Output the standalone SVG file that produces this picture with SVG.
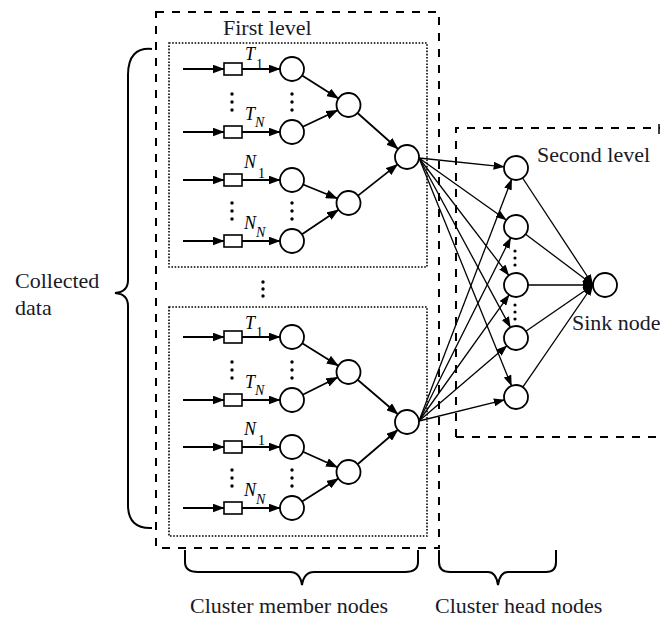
<svg xmlns="http://www.w3.org/2000/svg" width="660" height="619" viewBox="0 0 660 619">
<defs>
<marker id="ah" markerUnits="userSpaceOnUse" markerWidth="12" markerHeight="9" viewBox="0 0 12 9" refX="11.5" refY="4.5" orient="auto"><path d="M0,0 L12,4.5 L0,9 z" fill="#000"/></marker>
<marker id="ahs" markerUnits="userSpaceOnUse" markerWidth="11" markerHeight="8" viewBox="0 0 11 8" refX="10.5" refY="4" orient="auto"><path d="M0,0 L11,4 L0,8 z" fill="#000"/></marker>
</defs>
<style>
.dash{fill:none;stroke:#000;stroke-width:2;stroke-dasharray:8 8}
.dot{fill:none;stroke:#000;stroke-width:1.6;stroke-dasharray:1.6 1.6}
.nd{fill:#fff;stroke:#000;stroke-width:1.8}
.sq{fill:#fff;stroke:#000;stroke-width:1.6}
.a{stroke:#000;stroke-width:1.8;fill:none;marker-end:url(#ah)}
.c{stroke:#000;stroke-width:1.3;fill:none;marker-end:url(#ahs)}
.br{fill:none;stroke:#000;stroke-width:2}
.t{font-size:22px;fill:#1a1a26}
.v{font-style:italic;font-size:18px;fill:#000}
.s{font-size:14px;fill:#000}
.si{font-style:italic;font-size:14px;fill:#000}
.el{fill:#000}
</style>

<g id="frames">
<rect class="dash" x="156" y="12" width="283" height="536"/>
<rect class="dot" x="169" y="43" width="258" height="224"/>
<rect class="dot" x="169" y="307" width="258" height="229"/>
<path class="dash" d="M456,437 L456,128 L660,128 M456,437 L660,437"/>
<line x1="659" y1="124" x2="659" y2="134" stroke="#000" stroke-width="1.5"/>
</g>

<g id="braces">
<path class="br" d="M152,49 Q128,47 128,75 L128,280 Q128,292 115,293 Q128,294 128,306 L128,505 Q128,529 152,528"/>
<path class="br" d="M185,550 L185,562 Q185,572 198,572 L290,572 Q300,572 302,585 Q304,572 314,572 L405,572 Q418,572 418,562 L418,550"/>
<path class="br" d="M439,550 L439,562 Q439,572 450,572 L488,572 Q496,572 498,585 Q500,572 508,572 L546,572 Q556,572 556,562 L556,550"/>
</g>

<g id="connectors">
<line class="a" x1="183" y1="69" x2="224" y2="69"/>
<line class="a" x1="242" y1="69" x2="280" y2="69"/>
<line class="a" x1="183" y1="132" x2="224" y2="132"/>
<line class="a" x1="242" y1="132" x2="280" y2="132"/>
<line class="a" x1="183" y1="180" x2="224" y2="180"/>
<line class="a" x1="242" y1="180" x2="280" y2="180"/>
<line class="a" x1="183" y1="241" x2="224" y2="241"/>
<line class="a" x1="242" y1="241" x2="280" y2="241"/>
<line class="a" x1="302.1" y1="75.4" x2="338.4" y2="98.6"/>
<line class="a" x1="302.8" y1="126.8" x2="337.7" y2="110.2"/>
<line class="a" x1="303.1" y1="184.5" x2="337.4" y2="198.5"/>
<line class="a" x1="302" y1="234.3" x2="338.5" y2="209.7"/>
<line class="a" x1="357.5" y1="113" x2="398" y2="149"/>
<line class="a" x1="358" y1="195.6" x2="397.6" y2="164.4"/>
<line class="a" x1="183" y1="337" x2="224" y2="337"/>
<line class="a" x1="242" y1="337" x2="280" y2="337"/>
<line class="a" x1="183" y1="400" x2="224" y2="400"/>
<line class="a" x1="242" y1="400" x2="280" y2="400"/>
<line class="a" x1="183" y1="447" x2="224" y2="447"/>
<line class="a" x1="242" y1="447" x2="280" y2="447"/>
<line class="a" x1="183" y1="508" x2="224" y2="508"/>
<line class="a" x1="242" y1="508" x2="280" y2="508"/>
<line class="a" x1="302.2" y1="343.3" x2="338.3" y2="365.7"/>
<line class="a" x1="302.7" y1="394.7" x2="337.8" y2="377.3"/>
<line class="a" x1="303" y1="451.8" x2="337.5" y2="467.2"/>
<line class="a" x1="302.1" y1="501.6" x2="338.4" y2="478.4"/>
<line class="a" x1="357.6" y1="379.8" x2="397.9" y2="414.2"/>
<line class="a" x1="357.6" y1="464.2" x2="397.9" y2="429.8"/>
<line class="c" x1="419" y1="158" x2="504.1" y2="166.8"/>
<line class="c" x1="419" y1="158" x2="506.3" y2="220"/>
<line class="c" x1="419" y1="158" x2="508.8" y2="275.4"/>
<line class="c" x1="419" y1="158" x2="510.4" y2="327.4"/>
<line class="c" x1="419" y1="158" x2="511.5" y2="385.9"/>
<line class="c" x1="419" y1="421" x2="511.7" y2="179.2"/>
<line class="c" x1="419" y1="421" x2="510.7" y2="237.8"/>
<line class="c" x1="419" y1="421" x2="509.1" y2="294.8"/>
<line class="c" x1="419" y1="421" x2="506.9" y2="345.8"/>
<line class="c" x1="419" y1="421" x2="504.4" y2="399.9"/>
<line class="c" x1="522.6" y1="178" x2="593" y2="285"/>
<line class="c" x1="525.6" y1="234.2" x2="593" y2="285"/>
<line class="c" x1="528" y1="285" x2="593" y2="285"/>
<line class="c" x1="525.9" y1="331.2" x2="593" y2="285"/>
<line class="c" x1="522.8" y1="387.1" x2="593" y2="285"/>
</g>

<g id="cluster1" font-family="'Liberation Serif', 'DejaVu Serif', serif">
<rect class="sq" x="224" y="63" width="18" height="12"/>
<rect class="sq" x="224" y="126" width="18" height="12"/>
<rect class="sq" x="224" y="174" width="18" height="12"/>
<rect class="sq" x="224" y="235" width="18" height="12"/>
<circle class="nd" cx="292" cy="69" r="12"/>
<circle class="nd" cx="292" cy="132" r="12"/>
<circle class="nd" cx="292" cy="180" r="12"/>
<circle class="nd" cx="292" cy="241" r="12"/>
<circle class="nd" cx="348.5" cy="105" r="12"/>
<circle class="nd" cx="348.5" cy="203" r="12"/>
<g class="el">
<circle cx="232" cy="94" r="1.7"/><circle cx="232" cy="102" r="1.7"/><circle cx="232" cy="110" r="1.7"/>
<circle cx="292" cy="94" r="1.7"/><circle cx="292" cy="102" r="1.7"/><circle cx="292" cy="110" r="1.7"/>
<circle cx="232" cy="203" r="1.7"/><circle cx="232" cy="211" r="1.7"/><circle cx="232" cy="219" r="1.7"/>
<circle cx="292" cy="203" r="1.7"/><circle cx="292" cy="211" r="1.7"/><circle cx="292" cy="219" r="1.7"/>
</g>
<text class="v" x="245" y="60">T</text><text class="s" x="256" y="69">1</text>
<text class="v" x="245" y="120">T</text><text class="si" x="255" y="127">N</text>
<text class="v" x="244" y="168">N</text><text class="s" x="258" y="178">1</text>
<text class="v" x="244" y="229">N</text><text class="si" x="256" y="237">N</text>
</g>

<g id="cluster2" font-family="'Liberation Serif', 'DejaVu Serif', serif">
<rect class="sq" x="224" y="331" width="18" height="12"/>
<rect class="sq" x="224" y="394" width="18" height="12"/>
<rect class="sq" x="224" y="441" width="18" height="12"/>
<rect class="sq" x="224" y="502" width="18" height="12"/>
<circle class="nd" cx="292" cy="337" r="12"/>
<circle class="nd" cx="292" cy="400" r="12"/>
<circle class="nd" cx="292" cy="447" r="12"/>
<circle class="nd" cx="292" cy="508" r="12"/>
<circle class="nd" cx="348.5" cy="372" r="12"/>
<circle class="nd" cx="348.5" cy="472" r="12"/>
<g class="el">
<circle cx="232" cy="362" r="1.7"/><circle cx="232" cy="370" r="1.7"/><circle cx="232" cy="378" r="1.7"/>
<circle cx="292" cy="362" r="1.7"/><circle cx="292" cy="370" r="1.7"/><circle cx="292" cy="378" r="1.7"/>
<circle cx="232" cy="470" r="1.7"/><circle cx="232" cy="478" r="1.7"/><circle cx="232" cy="486" r="1.7"/>
<circle cx="292" cy="470" r="1.7"/><circle cx="292" cy="478" r="1.7"/><circle cx="292" cy="486" r="1.7"/>
</g>
<text class="v" x="245" y="329">T</text><text class="s" x="256" y="337">1</text>
<text class="v" x="245" y="388">T</text><text class="si" x="255" y="395">N</text>
<text class="v" x="244" y="435">N</text><text class="s" x="258" y="445">1</text>
<text class="v" x="244" y="496">N</text><text class="si" x="256" y="504">N</text>
</g>

<g id="between-dots" class="el">
<circle cx="263" cy="282" r="1.7"/><circle cx="263" cy="289" r="1.7"/><circle cx="263" cy="296" r="1.7"/>
</g>

<g id="head1"><circle class="nd" cx="407" cy="157" r="12"/></g>
<g id="head2"><circle class="nd" cx="407" cy="422" r="12"/></g>

<g id="second-level">
<circle class="nd" cx="516" cy="168" r="12"/>
<circle class="nd" cx="516" cy="227" r="12"/>
<circle class="nd" cx="516" cy="285" r="12"/>
<circle class="nd" cx="516" cy="338" r="12"/>
<circle class="nd" cx="516" cy="397" r="12"/>
<g class="el">
<circle cx="515" cy="251" r="1.6"/><circle cx="515" cy="258" r="1.6"/><circle cx="515" cy="265" r="1.6"/>
<circle cx="515" cy="305" r="1.6"/><circle cx="515" cy="312" r="1.6"/><circle cx="515" cy="319" r="1.6"/>
</g>
</g>

<g id="sink"><circle class="nd" cx="605" cy="285" r="12"/></g>

<g id="labels" font-family="'Liberation Serif', 'DejaVu Serif', serif">
<text class="t" x="223" y="35">First level</text>
<text class="t" x="537" y="162">Second level</text>
<text class="t" x="572" y="330">Sink node</text>
<text class="t" x="15" y="288">Collected</text>
<text class="t" x="15" y="315">data</text>
<text class="t" x="190" y="613" font-size="23">Cluster member nodes</text>
<text class="t" x="435" y="613" font-size="23">Cluster head nodes</text>
</g>
</svg>
